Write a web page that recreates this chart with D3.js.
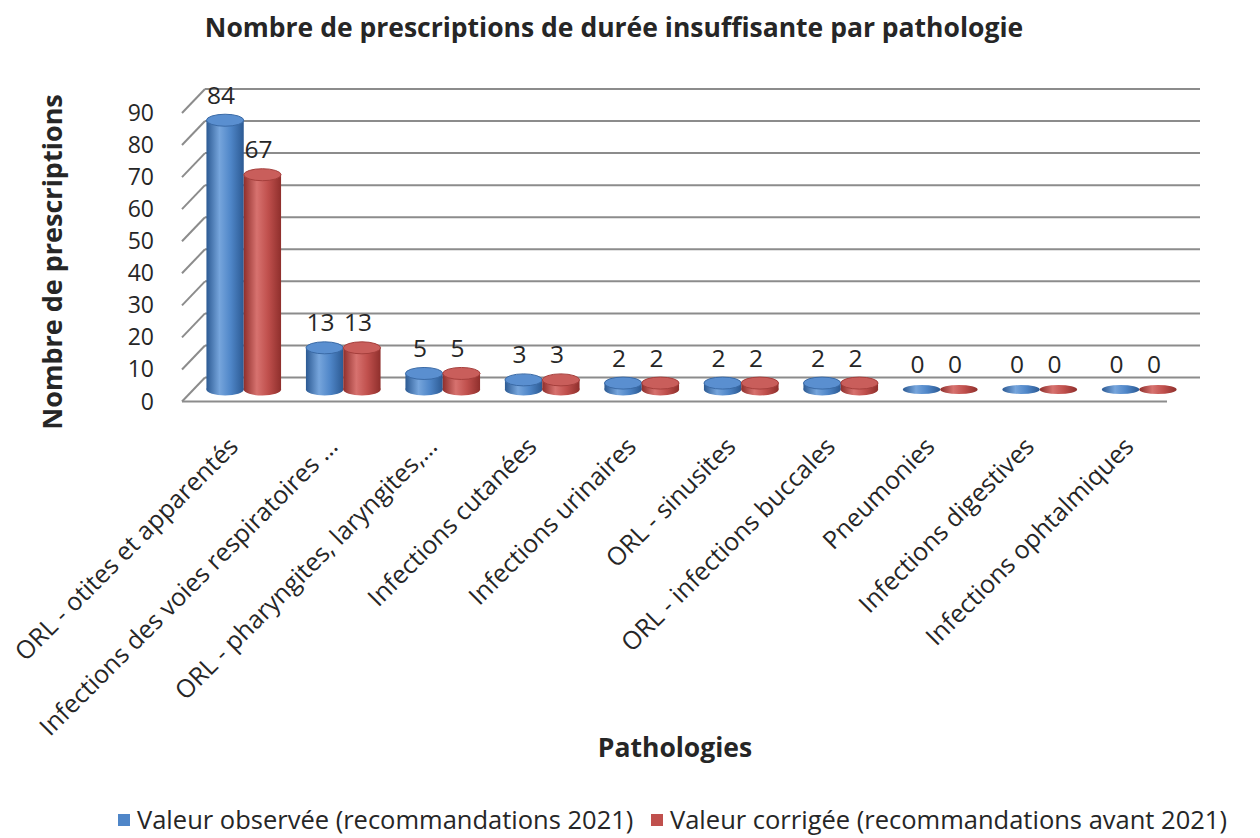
<!DOCTYPE html>
<html>
<head>
<meta charset="utf-8">
<script src="https://cdn.jsdelivr.net/npm/d3@7"></script>
<style>
  body { margin: 0; background: #fff; }
  text { font-family: 'Open Sans', Lato, sans-serif; fill: #262626; }
</style>
</head>
<body>
<div id="chart"></div>
<script>
// data
var categories = [
  "ORL - otites et apparentés",
  "Infections des voies respiratoires …",
  "ORL - pharyngites, laryngites,…",
  "Infections cutanées",
  "Infections urinaires",
  "ORL - sinusites",
  "ORL - infections buccales",
  "Pneumonies",
  "Infections digestives",
  "Infections ophtalmiques"
];
var seriesNames = ["Valeur observée (recommandations 2021)", "Valeur corrigée (recommandations avant 2021)"];
var observed = [84, 13, 5, 3, 2, 2, 2, 0, 0, 0];
var corrected = [67, 13, 5, 3, 2, 2, 2, 0, 0, 0];
var yTicks = [0, 10, 20, 30, 40, 50, 60, 70, 80, 90];

var W = 1260, H = 838;
var svg = d3.select("#chart").append("svg").attr("width", W).attr("height", H);

// back wall geometry, depth offset for the bar plane and front edge
var depth = { dx: -23, dy: 24 };
var mid = { dx: -11, dy: 12 };

var y = d3.scaleLinear().domain([0, 90]).range([377.5, 89]);
var x0 = d3.scaleBand().domain(categories).range([205, 1200]).paddingInner(0.25).paddingOuter(0.125);
var x1 = d3.scaleBand().domain([0, 1]).range([0, x0.bandwidth()]);

var colors = [
  { edge: "#2c5a93", mid: "#4f86c8", light: "#76a5dc", top: "#5a8fd0", stroke: "#3a6aa6" },
  { edge: "#8f2f2c", mid: "#c0504d", light: "#d7726f", top: "#c95e5b", stroke: "#a53f3c" }
];

var defs = svg.append("defs");
colors.forEach(function (c, i) {
  var g = defs.append("linearGradient").attr("id", "cyl" + i).attr("x1", 0).attr("x2", 1).attr("y1", 0).attr("y2", 0);
  g.append("stop").attr("offset", "0%").attr("stop-color", c.edge);
  g.append("stop").attr("offset", "35%").attr("stop-color", c.light);
  g.append("stop").attr("offset", "65%").attr("stop-color", c.mid);
  g.append("stop").attr("offset", "100%").attr("stop-color", c.edge);
});

var grid = svg.append("g").attr("stroke", "#8c8c8c").attr("stroke-width", 2).attr("fill", "none");
var xl = x0.range()[0], xr = x0.range()[1];

// back wall gridlines and left wall diagonals
yTicks.forEach(function (t) {
  grid.append("line").attr("x1", xl).attr("x2", xr).attr("y1", y(t)).attr("y2", y(t));
  grid.append("line").attr("x1", xl + depth.dx).attr("y1", y(t) + depth.dy).attr("x2", xl).attr("y2", y(t));
});
// floor front edge
grid.append("line")
  .attr("x1", xl + depth.dx).attr("y1", y(0) + depth.dy)
  .attr("x2", xr + depth.dx - 10).attr("y2", y(0) + depth.dy);

// tick labels
svg.append("g").selectAll("text").data(yTicks).enter().append("text")
  .attr("x", 154).attr("y", function (d) { return y(d) + depth.dy; })
  .attr("dy", "0.35em").attr("text-anchor", "end")
  .style("font-size", "23px")
  .text(function (d) { return d; });

// cylinders
var rows = [];
categories.forEach(function (c, i) {
  rows.push({ cat: c, s: 0, v: observed[i] });
  rows.push({ cat: c, s: 1, v: corrected[i] });
});

var ry = 6;
var bars = svg.append("g").selectAll("g").data(rows).enter().append("g");
bars.each(function (d) {
  var g = d3.select(this);
  var c = colors[d.s];
  var w = x1.bandwidth();
  var left = x0(d.cat) + x1(d.s) + mid.dx;
  var cx = left + w / 2;
  var base = y(0) + mid.dy;
  var top = y(d.v) + mid.dy;
  if (d.v > 0) {
    g.append("ellipse").attr("cx", cx).attr("cy", base).attr("rx", w / 2).attr("ry", ry)
      .attr("fill", "url(#cyl" + d.s + ")");
    g.append("rect").attr("x", left).attr("y", top).attr("width", w).attr("height", base - top)
      .attr("fill", "url(#cyl" + d.s + ")");
    g.append("ellipse").attr("cx", cx).attr("cy", top).attr("rx", w / 2).attr("ry", ry)
      .attr("fill", c.top).attr("stroke", c.stroke).attr("stroke-width", 1);
  } else {
    g.append("ellipse").attr("cx", cx).attr("cy", base).attr("rx", w / 2).attr("ry", 4.5)
      .attr("fill", "url(#cyl" + d.s + ")");
  }
  g.append("text")
    .attr("x", cx - 4).attr("y", top - 25)
    .attr("dy", "0.35em").attr("text-anchor", "middle")
    .style("font-size", "24.5px")
    .text(d.v);
});

// category labels
svg.append("g").selectAll("text").data(categories).enter().append("text")
  .attr("text-anchor", "end")
  .attr("transform", function (d) {
    var cx = x0(d) + x0.bandwidth() / 2 + mid.dx - 4;
    return "translate(" + cx + ",448) rotate(-45)";
  })
  .style("font-size", "25px")
  .text(function (d) { return d; });

// titles
svg.append("text").attr("x", 614).attr("y", 37).attr("text-anchor", "middle")
  .style("font-size", "26.5px").style("font-weight", "bold")
  .text("Nombre de prescriptions de durée insuffisante par pathologie");

svg.append("text").attr("transform", "translate(62,262) rotate(-90)").attr("text-anchor", "middle")
  .style("font-size", "27px").style("font-weight", "bold")
  .text("Nombre de prescriptions");

svg.append("text").attr("x", 675).attr("y", 757).attr("text-anchor", "middle")
  .style("font-size", "26.5px").style("font-weight", "bold")
  .text("Pathologies");

// legend
var legX = [118, 651];
var leg = svg.append("g").selectAll("g").data(seriesNames).enter().append("g")
  .attr("transform", function (d, i) { return "translate(" + legX[i] + ",814)"; });
leg.append("rect").attr("width", 12).attr("height", 12)
  .attr("fill", function (d, i) { return colors[i].mid; });
leg.append("text").attr("x", 19).attr("y", 6).attr("dy", "0.35em")
  .style("font-size", "25.5px")
  .text(function (d) { return d; });
</script>
</body>
</html>
